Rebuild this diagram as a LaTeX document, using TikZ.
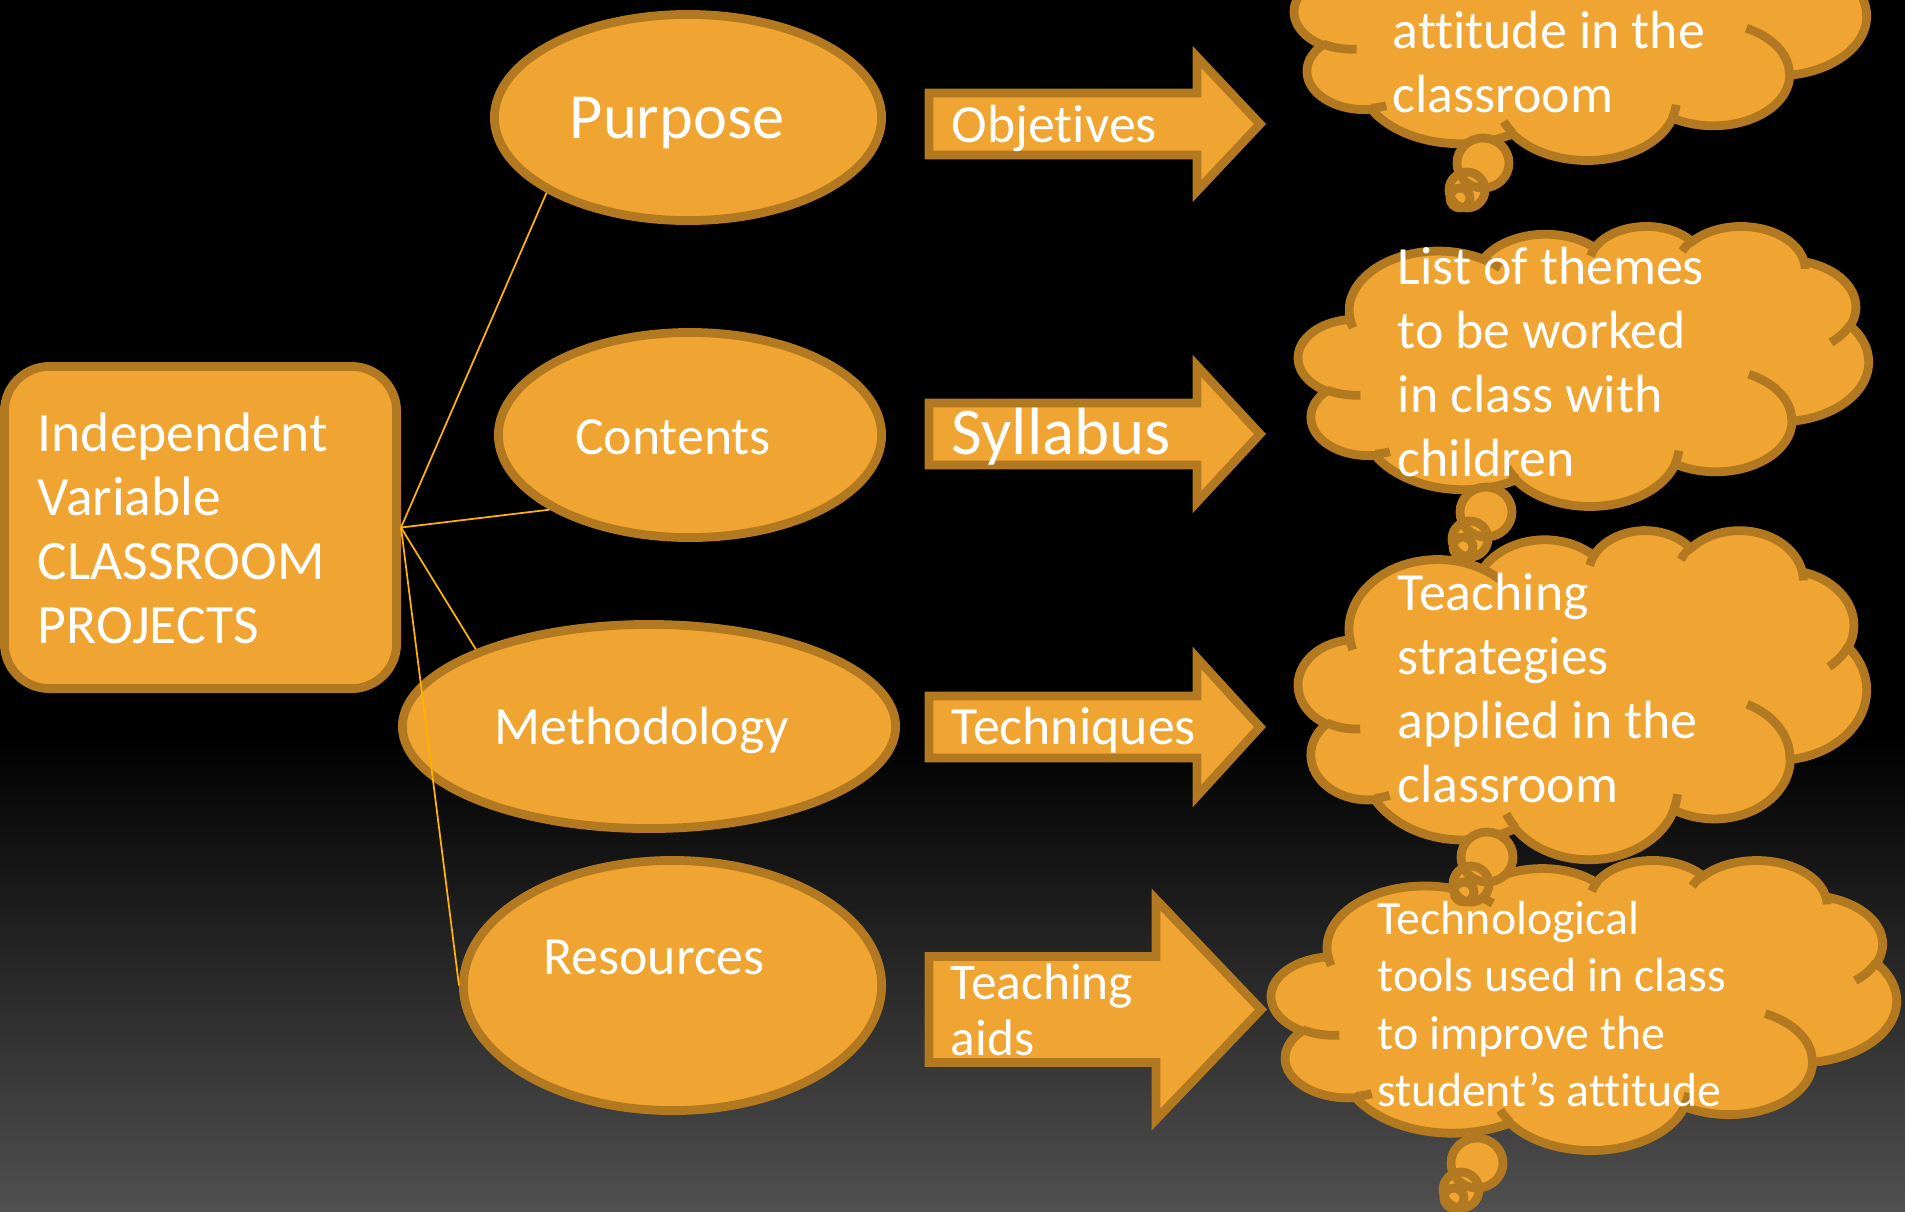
\documentclass[tikz,border=0pt]{standalone}
\usepackage{fontspec}
\setmainfont{Carlito}[Ligatures=NoCommon]
\usepackage{xcolor}
\usepackage{tikz}
\usetikzlibrary{calc,shapes.geometric}

\definecolor{ora}{RGB}{240,164,49}
\definecolor{orb}{RGB}{178,121,33}
\definecolor{ory}{RGB}{255,178,0}
\definecolor{bot}{RGB}{80,80,80}

\tikzset{
	shp/.style={draw=orb,fill=ora,line width=2.5pt},
	txt/.style={text=white,inner sep=0pt,align=left,font=\fontsize{15.3}{18.2}\selectfont},
	lnk/.style={draw=ory,line width=0.5pt}
}

\newcommand{\ooarc}[4]{arc[x radius=#1,y radius=#2,start angle={atan2(#1*sin(#3),#2*cos(#3))},delta angle={mod(atan2(#1*sin(#3+#4),#2*cos(#3+#4))-atan2(#1*sin(#3),#2*cos(#3))+540,360)-180}]}

\newcommand{\thinkcloud}[4]{
	\begin{scope}[shift={(#1,#2)},xscale=#3/4320,yscale=#4/4320]
		\path[shp] (390,1437) \ooarc{675.3}{919.0}{-190.487}{123.781} \ooarc{533.3}{726.7}{-144.102}{89.945}
			\ooarc{436.5}{594.5}{-145.808}{99.723} \ooarc{485.7}{659.5}{-130.986}{117.242}
			\ooarc{533.3}{727.3}{-78.709}{109.027} \ooarc{677.5}{922.0}{-46.267}{130.269}
			\ooarc{578.5}{786.7}{0.625}{114.033} \ooarc{675.2}{921.5}{22.452}{115.173}
			\ooarc{772.0}{1054.3}{66.243}{75.711} \ooarc{436.0}{591.8}{-274.942}{146.736}
			\ooarc{434.5}{594.5}{-246.829}{152.519} -- cycle;
		\draw[orb,line width=2.5pt] (469.3,2617.7) \ooarc{434.5}{594.5}{86.742}{26.430}
			(692.8,3489.9) \ooarc{436.0}{591.8}{73.610}{11.447}
			(1647.8,3909.0) \ooarc{675.2}{921.5}{137.624}{14.081}
			(2882.7,3475.1) \ooarc{675.2}{921.5}{6.453}{15.998}
			(3412.9,2295.4) \ooarc{578.5}{786.7}{-70.292}{70.917}
			(4179.8,1535.4) \ooarc{533.3}{727.3}{30.318}{27.752}
			(3832.4,542.6) \ooarc{485.7}{659.5}{-13.744}{14.859}
			(2907.8,395.2) \ooarc{485.7}{659.5}{-149.181}{18.195}
			(2214.1,472.0) \ooarc{436.5}{594.5}{-163.494}{17.686}
			(1400.0,519.2) \ooarc{675.3}{919.0}{-66.707}{12.319}
			(412.7,1578.9) \ooarc{675.3}{919.0}{157.654}{11.858};
	\end{scope}
}

\newcommand{\thinktail}[2]{
	\fill[ora] (#1,#2) ellipse[x radius=26,y radius=25] (#1-16,#2+27) circle[radius=18] (#1-23,#2+35) circle[radius=10];
	\draw[orb,line width=2.5pt] (#1,#2) ellipse[x radius=26,y radius=25] (#1-16,#2+27) circle[radius=18] (#1-23,#2+35) circle[radius=10];
}

\newcommand{\blockarrow}[5]{
	\draw[shp] (929,#1-#2) -- (#3,#1-#2) -- (#3,#1-#4) -- (#5,#1) -- (#3,#1+#4) -- (#3,#1+#2) -- (929,#1+#2) -- cycle;
}

\begin{document}
\begin{tikzpicture}[x=0.01cm,y=-0.01cm]
	\useasboundingbox (0,0) rectangle (1905,1211);
	\clip (0,0) rectangle (1905,1211);
	\fill[black] (0,0) rectangle (1905,1211);
	\shade[top color=black,bottom color=bot] (0,734) rectangle (1905,1211);

	\node[shp,rounded corners=0.45cm,minimum width=3.92cm,minimum height=3.22cm] (V) at (200.5,527.5) {};
	\node[txt,anchor=west,font=\fontsize{15.8}{18.2}\selectfont] (Vt) at (37,528) {Independent\\Variable\\CLASSROOM\\PROJECTS};

	\node[shp,ellipse,minimum width=3.87cm,minimum height=2.06cm] (P) at (688,117.5) {};
	\node[shp,ellipse,minimum width=3.83cm,minimum height=2.05cm] (C) at (690,435) {};
	\node[shp,ellipse,minimum width=4.93cm,minimum height=2.04cm] (M) at (649,726.5) {};
	\node[shp,ellipse,minimum width=4.18cm,minimum height=2.50cm] (R) at (672.5,985.5) {};
	\node[txt,font=\fontsize{18.3}{22}\selectfont] (Pl) at (677,123) {Purpose};
	\node[txt] (Cl) at (673,437) {Contents};
	\node[txt] (Ml) at (642,730) {Methodology};
	\node[txt] (Rl) at (654,957) {Resources};

	\coordinate (H) at (V.east);
	\draw[lnk] (H) -- (P.208);
	\draw[lnk] (H) -- (C.208.7);
	\draw[lnk] (H) -- (M.156.6);
	\draw[lnk] (H) -- (R.west);

	\blockarrow{124}{31}{1197}{67}{1260}
	\blockarrow{434}{31}{1197}{68}{1260}
	\blockarrow{727}{31}{1197}{69}{1260}
	\blockarrow{1009.5}{53}{1156}{110}{1261}
	\node[txt,anchor=west] (O) at (951,128) {Objetives};
	\node[txt,anchor=west,font=\fontsize{19}{22}\selectfont] (S) at (951,437) {Syllabus};
	\node[txt,anchor=west] (T) at (951,730) {Techniques};
	\node[txt,anchor=west,font=\fontsize{14.6}{16}\selectfont] (A) at (950,1010) {Teaching\\aids};

	\thinkcloud{1294.5}{-120.5}{572}{280}
	\thinkcloud{1298.5}{225.5}{570}{280}
	\thinkcloud{1298.5}{529.5}{568}{329}
	\thinkcloud{1271.5}{859.5}{625}{290}
	\thinktail{1483}{163}
	\thinktail{1486}{512}
	\thinktail{1487}{857}
	\thinktail{1477}{1163}

	\node[txt,anchor=west] (W) at (1392,62) {attitude in the\\classroom};
	\node[txt,anchor=west] (X) at (1397,362) {List of themes\\to be worked\\in class with\\children};
	\node[txt,anchor=west] (Y) at (1397,688) {Teaching\\strategies\\applied in the\\classroom};
	\node[txt,anchor=west,font=\fontsize{13.6}{16.3}\selectfont] (Z) at (1377,1004) {Technological\\tools used in class\\to improve the\\student’s attitude};
\end{tikzpicture}
\end{document}
